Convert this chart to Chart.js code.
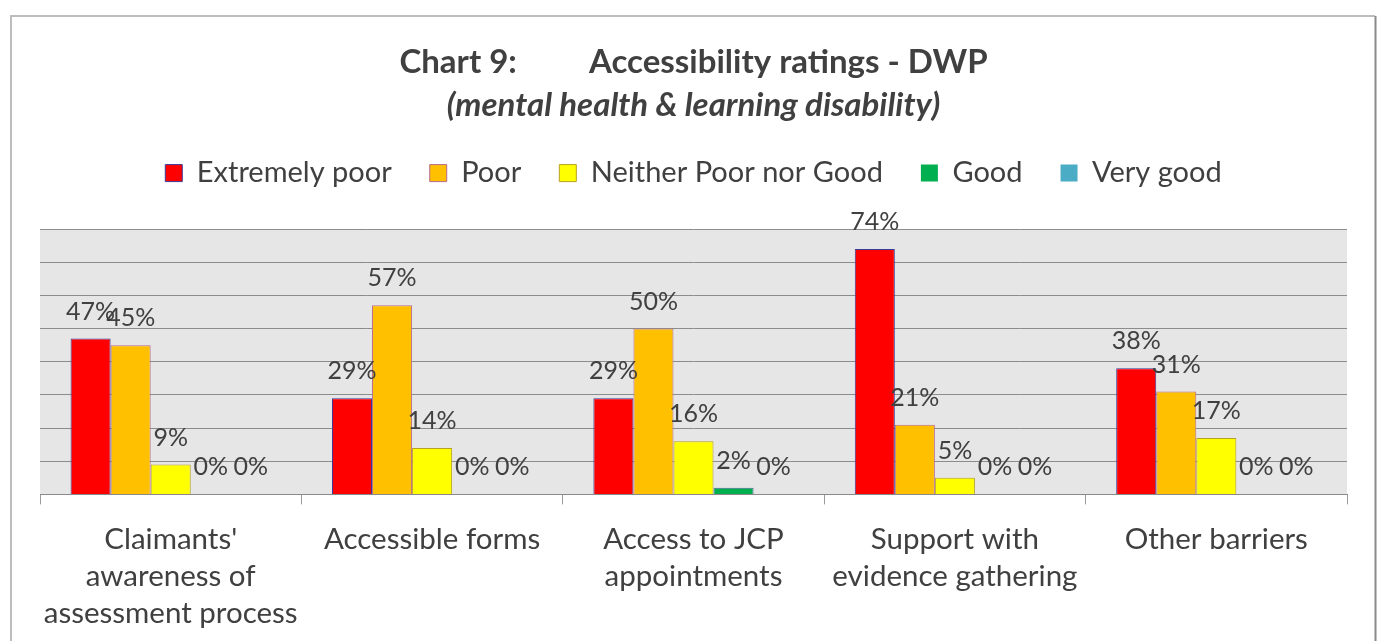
<!DOCTYPE html>
<html>
<head>
<meta charset="utf-8">
<script src="https://cdn.jsdelivr.net/npm/chart.js@4.4.1/dist/chart.umd.min.js"></script>
<style>
  html, body { margin: 0; padding: 0; background: #fff; overflow: hidden; }
  #wrap { width: 1377px; height: 641px; }
</style>
</head>
<body>
<div id="wrap"><canvas id="chart9"></canvas></div>
<script>
  const categories = [
    ["Claimants'", "awareness of", "assessment process"],
    "Accessible forms",
    ["Access to JCP", "appointments"],
    ["Support with", "evidence gathering"],
    "Other barriers"
  ];
  const seriesNames = ["Extremely poor", "Poor", "Neither Poor nor Good", "Good", "Very good"];
  const extremelyPoor = [47, 29, 29, 74, 38];
  const poor = [45, 57, 50, 21, 31];
  const neither = [9, 14, 16, 5, 17];
  const good = [0, 0, 2, 0, 0];
  const veryGood = [0, 0, 0, 0, 0];
  const yTicks = [0, 10, 20, 30, 40, 50, 60, 70, 80];

  const fillColors = ["#ff0000", "#ffc000", "#ffff00", "#00b050", "#4bacc6"];
  const edgeColors = ["#3b3b9a", "#b86b8c", "#b8a020", "#4a6a90", "#3a9a80"];
  const FONT = "Lato";
  const TEXT = "#404040";

  // fond gris + cadre
  const backgroundPlugin = {
    id: "bgFrame",
    beforeDraw(chart) {
      const { ctx, chartArea } = chart;
      ctx.save();
      ctx.strokeStyle = "#bdbdbd";
      ctx.lineWidth = 2;
      ctx.beginPath();
      ctx.moveTo(11, 700);
      ctx.lineTo(11, 16);
      ctx.lineTo(1375, 16);
      ctx.stroke();
      ctx.strokeStyle = "#8a8a8a";
      ctx.beginPath();
      ctx.moveTo(1375.5, 16);
      ctx.lineTo(1375.5, 700);
      ctx.stroke();
      ctx.fillStyle = "#e6e6e6";
      ctx.fillRect(chartArea.left, chartArea.top, chartArea.right - chartArea.left, chartArea.bottom - chartArea.top);
      ctx.restore();
    }
  };

  // espace sous la légende
  const legendGap = {
    id: "legendGap",
    beforeLayout(chart) {
      const lg = chart.legend;
      if (lg && !lg._gapDone) {
        const fit = lg.fit.bind(lg);
        lg.fit = function () { fit(); this.height += 31.5; };
        lg._gapDone = true;
      }
    }
  };

  // étiquettes de valeurs
  const valueLabels = {
    id: "valueLabels",
    afterDatasetsDraw(chart) {
      const { ctx } = chart;
      ctx.save();
      ctx.font = "25px " + FONT;
      ctx.fillStyle = TEXT;
      ctx.textAlign = "center";
      ctx.textBaseline = "middle";
      chart.data.datasets.forEach((ds, i) => {
        chart.getDatasetMeta(i).data.forEach((bar, j) => {
          ctx.fillText(ds.data[j] + "%", bar.x, bar.y - 27);
        });
      });
      ctx.restore();
    }
  };

  const allSeries = [extremelyPoor, poor, neither, good, veryGood];

  new Chart(document.getElementById("chart9"), {
    type: "bar",
    data: {
      labels: categories,
      datasets: allSeries.map((vals, i) => ({
        label: seriesNames[i],
        data: vals,
        backgroundColor: fillColors[i],
        borderColor: edgeColors[i],
        borderWidth: (c) => (c.raw === 0 ? 0 : 1),
        borderSkipped: "bottom",
        barPercentage: 1,
        categoryPercentage: 0.766
      }))
    },
    options: {
      responsive: true,
      maintainAspectRatio: false,
      animation: false,
      layout: { padding: { left: 40, right: 30, top: 45.5, bottom: -8 } },
      plugins: {
        title: {
          display: true,
          text: "Chart 9:         Accessibility ratings - DWP",
          color: TEXT,
          font: { family: FONT, size: 33, weight: "bold", lineHeight: 1 },
          padding: { top: 0, bottom: 15 }
        },
        subtitle: {
          display: true,
          text: "(mental health & learning disability)",
          color: TEXT,
          font: { family: FONT, size: 33, weight: "bold", style: "italic", lineHeight: 0.7 },
          padding: { top: 0, bottom: 4 }
        },
        legend: {
          position: "top",
          labels: {
            color: TEXT,
            font: { family: FONT, size: 29 },
            boxWidth: 17,
            boxHeight: 17,
            padding: 38,
            useBorderRadius: false
          }
        },
        tooltip: { enabled: false }
      },
      scales: {
        x: {
          grid: {
            drawOnChartArea: false,
            drawTicks: true,
            tickLength: 10,
            color: "#9a9a9a"
          },
          border: { color: "#8a8a8a" },
          ticks: {
            color: TEXT,
            font: { family: FONT, size: 29.5, lineHeight: 1.25 },
            maxRotation: 0,
            autoSkip: false,
            padding: 17
          }
        },
        y: {
          min: 0,
          max: 80,
          afterBuildTicks: (axis) => { axis.ticks = yTicks.map((v) => ({ value: v })); },
          ticks: { display: false },
          grid: { color: "#8c8c8c", drawTicks: false },
          border: { display: false }
        }
      }
    },
    plugins: [backgroundPlugin, legendGap, valueLabels]
  });
</script>
</body>
</html>
